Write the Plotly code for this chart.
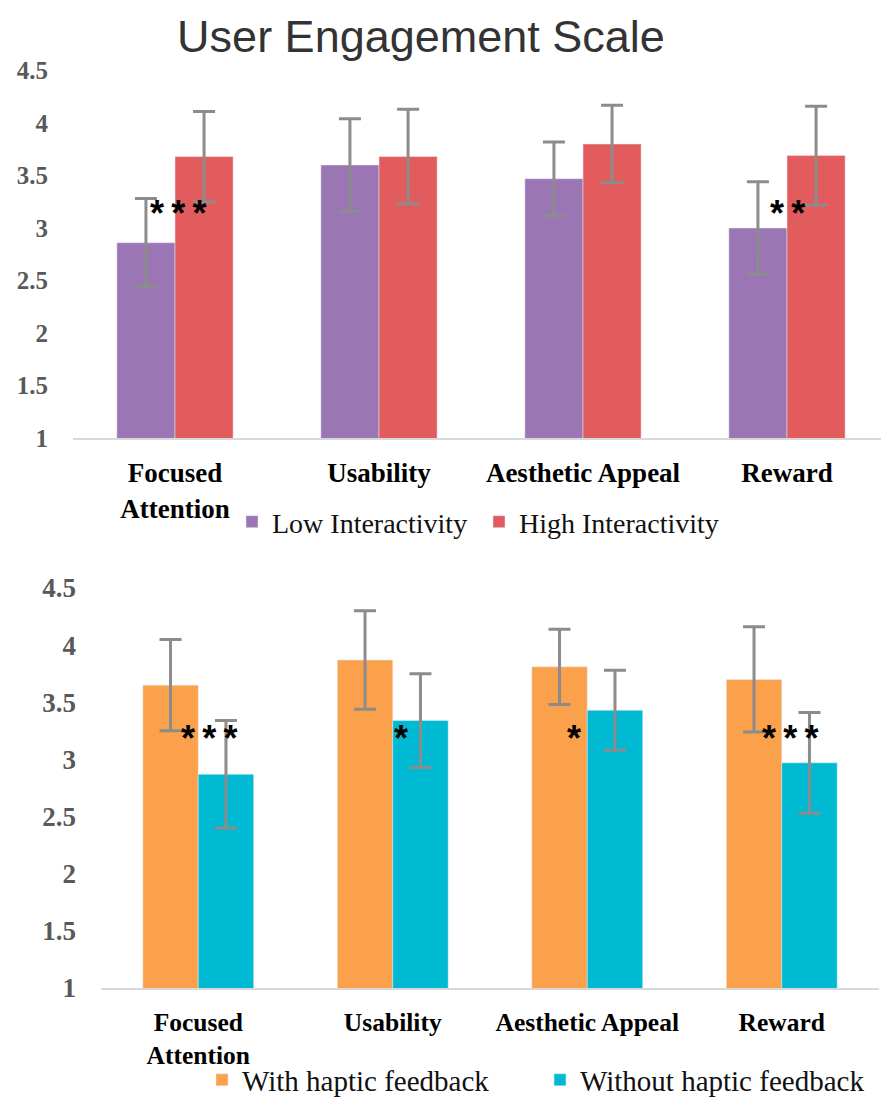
import plotly.graph_objects as go

# ---------------- data ----------------
categories = ["Focused Attention", "Usability", "Aesthetic Appeal", "Reward"]
tick_labels = ["Focused<br>Attention", "Usability", "Aesthetic Appeal", "Reward"]

low_interactivity = [2.86, 3.60, 3.47, 3.00]
low_interactivity_err = [0.42, 0.44, 0.35, 0.44]
high_interactivity = [3.68, 3.68, 3.80, 3.69]
high_interactivity_err = [0.43, 0.45, 0.37, 0.47]

with_haptic = [3.65, 3.87, 3.81, 3.70]
with_haptic_err = [0.40, 0.43, 0.33, 0.46]
without_haptic = [2.87, 3.34, 3.43, 2.97]
without_haptic_err = [0.47, 0.41, 0.35, 0.44]

sig_top = ["***", "", "", "**"]
sig_bottom = ["***", "*", "*", "***"]
sig_level_top = 3.2
sig_level_bottom = 3.23

y_ticks = [1, 1.5, 2, 2.5, 3, 3.5, 4, 4.5]
y_tick_text = ["1", "1.5", "2", "2.5", "3", "3.5", "4", "4.5"]

# ---------------- style ----------------
PAGE_W, PAGE_H = 889, 1097
OFF = 8  # default page body margin
W, H = PAGE_W - OFF, PAGE_H - OFF
PURPLE = "#9b76b4"
RED = "#e35c5d"
ORANGE = "#fba04b"
TEAL = "#00b9d2"
ERR = "#8c8c8c"
SERIF = "Liberation Serif, Times New Roman, serif"
SANS = "Liberation Sans, Arial, sans-serif"
sig_xshift_top = [3, 0, 0, 0]
sig_xshift_bottom = [11, 8, -13, 8]


def px_x(p):
    return (p - OFF) / W


def px_y(p):
    return 1 - (p - OFF) / H


def err(vals):
    return dict(type="data", array=vals, visible=True, color=ERR,
                thickness=3, width=11)


fig = go.Figure()

fig.add_trace(go.Bar(x=categories, y=low_interactivity, name="Low Interactivity",
                     marker_color=PURPLE, error_y=err(low_interactivity_err),
                     xaxis="x", yaxis="y", legend="legend"))
fig.add_trace(go.Bar(x=categories, y=high_interactivity, name="High Interactivity",
                     marker_color=RED, error_y=err(high_interactivity_err),
                     xaxis="x", yaxis="y", legend="legend"))
fig.add_trace(go.Bar(x=categories, y=with_haptic, name="With haptic feedback",
                     marker_color=ORANGE, error_y=err(with_haptic_err),
                     xaxis="x2", yaxis="y2", legend="legend2"))
fig.add_trace(go.Bar(x=categories, y=without_haptic, name="Without haptic feedback",
                     marker_color=TEAL, error_y=err(without_haptic_err),
                     xaxis="x2", yaxis="y2", legend="legend2"))

SEP = "\u2009"
annotations = []
for c, s, dx in zip(categories, sig_top, sig_xshift_top):
    if s:
        annotations.append(dict(x=c, y=sig_level_top, xref="x", yref="y",
                                text=SEP.join(s), showarrow=False, yshift=-6,
                                xshift=dx,
                                font=dict(family=SANS, size=36, color="#000",
                                          weight="bold")))
for c, s, dx in zip(categories, sig_bottom, sig_xshift_bottom):
    if s:
        annotations.append(dict(x=c, y=sig_level_bottom, xref="x2", yref="y2",
                                text=SEP.join(s), showarrow=False, yshift=-5,
                                xshift=dx,
                                font=dict(family=SANS, size=36, color="#000",
                                          weight="bold")))

xaxis_common = dict(type="category", categoryorder="array", categoryarray=categories,
                    tickmode="array", tickvals=categories, ticktext=tick_labels,
                    showline=True, linecolor="#d9d9d9", linewidth=2,
                    showgrid=False, zeroline=False, ticks="",
                    ticklabelstandoff=10)
yaxis_common = dict(range=[1, 4.5], tickmode="array", tickvals=y_ticks,
                    ticktext=y_tick_text, showgrid=False, zeroline=False,
                    showline=False, ticks="", ticklabelstandoff=24)

fig.update_layout(
    width=W, height=H,
    margin=dict(l=0, r=0, t=0, b=0, autoexpand=False),
    paper_bgcolor="white", plot_bgcolor="white",
    barmode="group", bargap=0.43, bargroupgap=0,
    title=dict(text="User Engagement Scale", x=px_x(421), y=px_y(36),
               xanchor="center", yanchor="middle",
               font=dict(family=SANS, size=45, color="#333333")),
    xaxis=dict(domain=[px_x(73), 1.0],
               tickfont=dict(family=SERIF, size=27, color="#000", weight="bold"),
               anchor="y", **xaxis_common),
    yaxis=dict(domain=[px_y(438), px_y(70.5)], anchor="x",
               tickfont=dict(family=SERIF, size=25, color="#595959", weight="bold"),
               **yaxis_common),
    xaxis2=dict(domain=[px_x(101), px_x(879)],
                tickfont=dict(family=SERIF, size=25.5, color="#000", weight="bold"),
                anchor="y2", **xaxis_common),
    yaxis2=dict(domain=[px_y(988), px_y(588)], anchor="x2",
                tickfont=dict(family=SERIF, size=27, color="#595959", weight="bold"),
                **yaxis_common),
    legend=dict(orientation="h", x=px_x(232), y=px_y(522), xanchor="left",
                yanchor="middle", font=dict(family=SERIF, size=28, color="#111"),
                entrywidthmode="pixels", entrywidth=202, bgcolor="rgba(0,0,0,0)"),
    legend2=dict(orientation="h", x=px_x(202), y=px_y(1080), xanchor="left",
                 yanchor="middle", font=dict(family=SERIF, size=29, color="#111"),
                 entrywidthmode="pixels", entrywidth=293, bgcolor="rgba(0,0,0,0)"),
    annotations=annotations,
    showlegend=True,
)

fig.write_html("out.html")
